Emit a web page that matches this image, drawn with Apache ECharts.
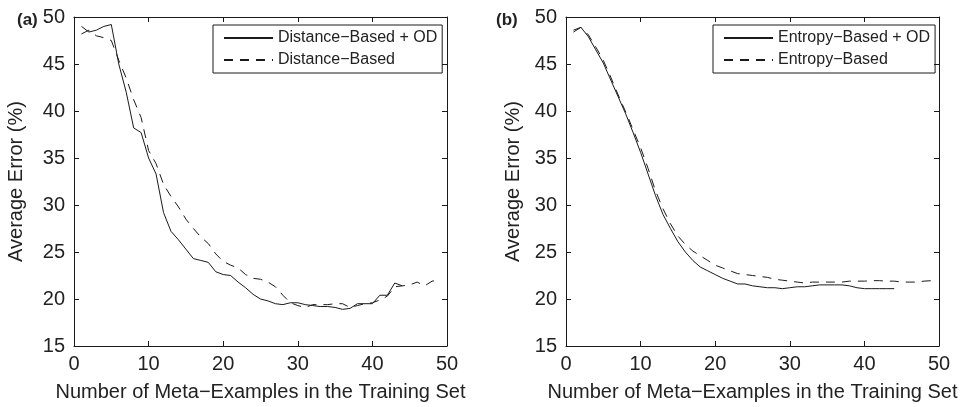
<!DOCTYPE html>
<html>
<head>
<meta charset="utf-8">
<script src="https://cdn.jsdelivr.net/npm/echarts@6/dist/echarts.min.js"></script>
<style>
html,body{margin:0;padding:0;background:#fff;}
#c{width:965px;height:407px;}
</style>
</head>
<body>
<div id="c"></div>
<script>
// ---- data ----
const xTicks = [0, 10, 20, 30, 40, 50];
const yTicks = [15, 20, 25, 30, 35, 40, 45, 50];

const distOD_x = [1,2,3,4,5,6,7,8,9,10,11,12,13,14,15,16,17,18,19,20,21,22,23,24,25,26,27,28,29,30,31,32,33,34,35,36,37,38,39,40,41,42,43,44];
const distOD_y = [49.0,48.4,48.6,49.0,49.2,45.0,42.0,38.2,37.7,35.0,33.3,29.2,27.2,26.3,25.3,24.3,24.1,23.9,22.9,22.6,22.5,21.8,21.2,20.5,20.0,19.8,19.5,19.4,19.6,19.6,19.4,19.3,19.2,19.2,19.1,18.9,19.0,19.5,19.5,19.5,20.4,20.4,21.7,21.4];

const dist_x = [1,2,3,4,5,6,7,8,9,10,11,12,13,14,15,16,17,18,19,20,21,22,23,24,25,26,27,28,29,30,31,32,33,34,35,36,37,38,39,40,41,42,43,44,45,46,47,48,49];
const dist_y = [48.2,48.6,48.0,47.8,47.5,45.4,43.5,41.2,39.3,35.8,34.4,32.2,30.9,29.8,28.5,27.5,26.6,25.9,24.8,24.0,23.6,23.3,22.6,22.2,22.1,21.8,21.3,20.4,19.6,19.3,19.1,19.4,19.4,19.4,19.5,19.5,19.1,19.3,19.5,19.6,19.9,20.3,21.3,21.4,21.5,21.8,21.4,21.9,22.0];

const entOD_x = [1,2,3,4,5,6,7,8,9,10,11,12,13,14,15,16,17,18,19,20,21,22,23,24,25,26,27,28,29,30,31,32,33,34,35,36,37,38,39,40,41,42,43,44];
const entOD_y = [48.4,48.9,47.9,46.5,45.1,43.3,41.5,39.7,37.7,35.6,33.3,31.0,29.0,27.5,26.1,25.0,24.1,23.4,23.0,22.6,22.2,21.9,21.6,21.6,21.4,21.3,21.2,21.2,21.1,21.2,21.3,21.3,21.4,21.5,21.5,21.5,21.5,21.4,21.2,21.1,21.1,21.1,21.1,21.1];

const ent_x = [1,2,3,4,5,6,7,8,9,10,11,12,13,14,15,16,17,18,19,20,21,22,23,24,25,26,27,28,29,30,31,32,33,34,35,36,37,38,39,40,41,42,43,44,45,46,47,48,49];
const ent_y = [48.6,48.9,48.1,46.8,45.4,43.6,41.7,39.9,38.0,36.1,33.9,31.5,29.6,28.0,26.7,25.8,25.1,24.6,24.1,23.6,23.3,23.0,22.7,22.6,22.5,22.4,22.3,22.1,22.0,21.9,21.8,21.7,21.8,21.8,21.8,21.8,21.8,21.9,21.9,21.9,21.95,21.95,21.9,21.9,21.8,21.8,21.8,21.9,21.95];

const names = ['Distance−Based + OD', 'Distance−Based', 'Entropy−Based + OD', 'Entropy−Based'];
const panelLabels = ['(a)', '(b)'];
const xName = 'Number of Meta−Examples in the Training Set';
const yName = 'Average Error (%)';

// ---- chart ----
const FONT = '"Liberation Sans", Arial, Helvetica, sans-serif';
const INK = '#1a1a1a';
const pairs = (xs, ys) => xs.map((x, i) => [x, ys[i]]);

function xAx(grid, pos, labels) {
  return {
    type: 'value', gridIndex: grid, position: pos, min: 0, max: 50, interval: 10,
    name: labels ? xName : '', nameLocation: 'middle', nameGap: 36,
    nameTextStyle: { fontFamily: FONT, fontSize: 20, color: '#222' },
    axisLine: { show: true, onZero: false, lineStyle: { color: INK, width: 1 } },
    axisTick: { show: true, inside: true, length: 5, lineStyle: { color: INK } },
    axisLabel: { show: labels, fontFamily: FONT, fontSize: 20, color: '#222', margin: 8 },
    splitLine: { show: false }
  };
}
function yAx(grid, pos, labels, gap) {
  return {
    type: 'value', gridIndex: grid, position: pos, min: 15, max: 50, interval: 5,
    name: labels ? yName : '', nameLocation: 'middle', nameGap: gap,
    nameTextStyle: { fontFamily: FONT, fontSize: 20, color: '#222' },
    axisLine: { show: true, onZero: false, lineStyle: { color: INK, width: 1 } },
    axisTick: { show: true, inside: true, length: 5, lineStyle: { color: INK } },
    axisLabel: { show: labels, fontFamily: FONT, fontSize: 20, color: '#222', margin: 9 },
    splitLine: { show: false }
  };
}
function ser(name, xi, yi, data, dashed) {
  return {
    name, type: 'line', xAxisIndex: xi, yAxisIndex: yi, data,
    symbol: 'none', showSymbol: false, animation: false, silent: true,
    lineStyle: { color: INK, width: 1, type: dashed ? [9, 7] : 'solid' },
    itemStyle: { color: INK }
  };
}
function leg(names2, left, top) {
  return {
    data: names2, orient: 'vertical', left, top,
    borderColor: INK, borderWidth: 1, borderRadius: 0,
    padding: [5, 5, 5, 10], itemWidth: 49, itemHeight: 14, itemGap: 6,
    itemStyle: { opacity: 0, borderWidth: 0 },
    lineStyle: { inherit: true },
    textStyle: { fontFamily: FONT, fontSize: 16, color: '#222' },
    selectedMode: false
  };
}

const chart = echarts.init(document.getElementById('c'), null, { renderer: 'canvas' });
chart.setOption({
  backgroundColor: '#fff',
  animation: false,
  grid: [
    { left: 74, top: 17, width: 373, height: 331 },
    { left: 566, top: 17, width: 373, height: 331 }
  ],
  xAxis: [xAx(0, 'bottom', true), xAx(0, 'top', false), xAx(1, 'bottom', true), xAx(1, 'top', false)],
  yAxis: [yAx(0, 'left', true, 48), yAx(0, 'right', false, 0), yAx(1, 'left', true, 43), yAx(1, 'right', false, 0)],
  legend: [leg([names[0], names[1]], 213, 25), leg([names[2], names[3]], 713, 25)],
  graphic: [
    { type: 'text', left: 17, top: 12, style: { text: panelLabels[0], fontFamily: FONT, fontSize: 17, fontWeight: 'bold', fill: '#222' } },
    { type: 'text', left: 496, top: 12, style: { text: panelLabels[1], fontFamily: FONT, fontSize: 17, fontWeight: 'bold', fill: '#222' } }
  ],
  series: [
    ser(names[0], 0, 0, pairs(distOD_x, distOD_y), false),
    ser(names[1], 0, 0, pairs(dist_x, dist_y), true),
    ser(names[2], 2, 2, pairs(entOD_x, entOD_y), false),
    ser(names[3], 2, 2, pairs(ent_x, ent_y), true)
  ]
});
</script>
</body>
</html>
